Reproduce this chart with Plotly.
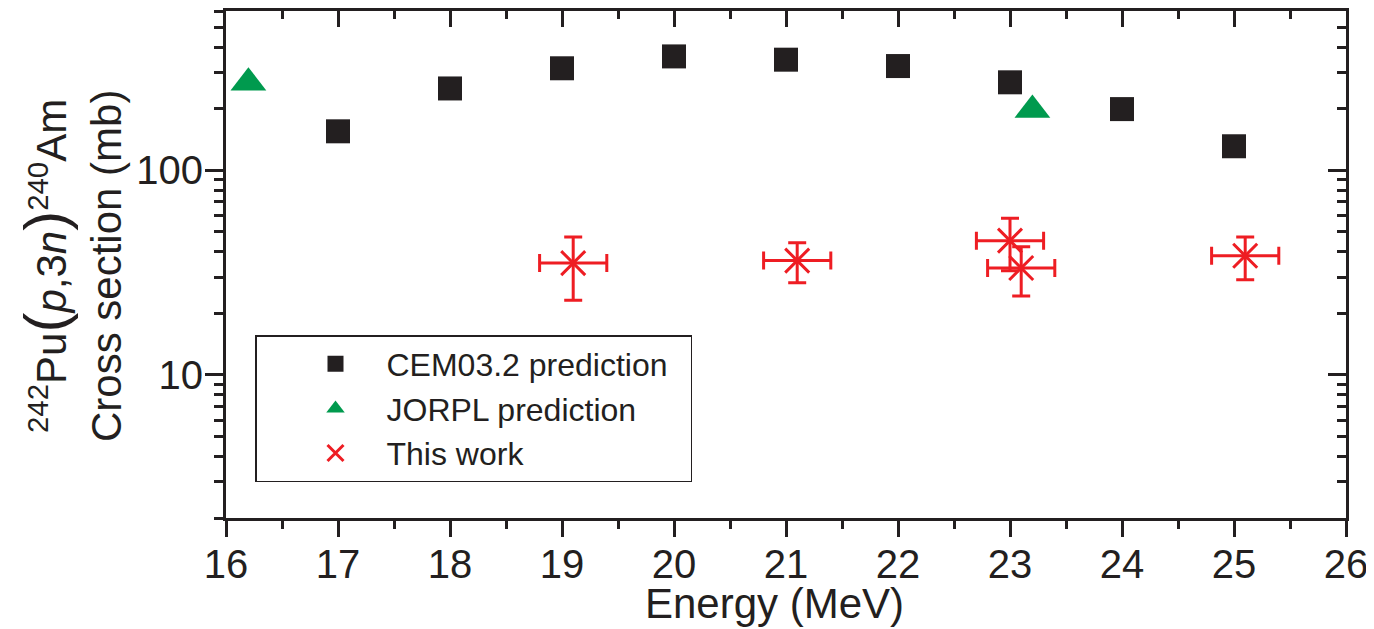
import math
import plotly.graph_objects as go

# ---- data ----
cem_energy = [17, 18, 19, 20, 21, 22, 23, 24, 25]
cem_xs = [155, 251, 315, 360, 347, 323, 269, 199, 131]

jorpl_energy = [16.2, 23.2]
jorpl_xs = [268, 197]

work_energy = [19.1, 21.1, 23.0, 23.1, 25.1]
work_xs = [35.2, 36.2, 45.3, 33.3, 38.2]
work_xs_err = [12, 8, 13, 9, 9]
work_energy_err = [0.3, 0.3, 0.3, 0.3, 0.3]

x_range = [16, 26]
y_range = [2, 600]

FONT = "Liberation Sans, Arial, sans-serif"
INK = "#231F20"
RED = "#EE1D23"
GREEN = "#009A4E"

fig = go.Figure()
fig.add_trace(go.Scatter(
    x=cem_energy, y=cem_xs, mode="markers", name="CEM03.2 prediction&nbsp;&nbsp;",
    marker=dict(symbol="square", size=24, color=INK, line=dict(width=0)),
))
fig.add_trace(go.Scatter(
    x=jorpl_energy, y=jorpl_xs, mode="markers", name="JORPL prediction",
    marker=dict(symbol="triangle-up", size=31, color=GREEN, line=dict(width=0)),
))
fig.add_trace(go.Scatter(
    x=work_energy, y=work_xs, mode="markers", name="This work",
    marker=dict(symbol="x-thin", size=24, color=RED, line=dict(width=3, color=RED)),
    error_y=dict(type="data", array=work_xs_err, visible=True, color=RED, thickness=3, width=9),
    error_x=dict(type="data", array=work_energy_err, visible=True, color=RED, thickness=3, width=9),
))
# invisible carrier so the mirrored top/right axes get drawn
fig.add_trace(go.Scatter(
    x=cem_energy, y=cem_xs, xaxis="x2", yaxis="y2", mode="markers",
    marker=dict(opacity=0), showlegend=False, hoverinfo="skip",
))

axis_common = dict(showline=True, linewidth=3, linecolor=INK, showgrid=False,
                   zeroline=False, tickcolor=INK, tickwidth=3, automargin=False)

# page body has an 8px margin, so the figure is 8px smaller than the window
fig.update_layout(
    width=1366, height=621,
    margin=dict(l=218, r=28, t=3, b=111),
    paper_bgcolor="white", plot_bgcolor="white",
    font=dict(family=FONT, color=INK, size=40),
    showlegend=True,
    legend=dict(
        x=(255 - 226) / 1120, y=(518 - 335) / 507, xanchor="left", yanchor="top",
        bordercolor=INK, borderwidth=1.5, bgcolor="white",
        font=dict(family=FONT, size=32, color=INK),
        itemwidth=92, indentation=28, tracegroupgap=0,
    ),
    xaxis=dict(
        **axis_common, range=x_range, dtick=1, tick0=16, ticks="outside", ticklen=16,
        minor=dict(dtick=0.5, ticks="outside", ticklen=8, tickwidth=3, tickcolor=INK),
        tickfont=dict(size=40), ticklabelstandoff=-7,
    ),
    xaxis2=dict(
        **axis_common, range=x_range, overlaying="x", side="top", anchor="y2",
        dtick=1, tick0=16, ticks="inside", ticklen=16, showticklabels=False,
        minor=dict(dtick=0.5, ticks="inside", ticklen=8, tickwidth=3, tickcolor=INK),
    ),
    yaxis=dict(
        **axis_common, type="log", range=[math.log10(y_range[0]), math.log10(y_range[1])],
        dtick=1, ticks="outside", ticklen=18, ticklabelstandoff=-6,
        minor=dict(dtick="D1", ticks="outside", ticklen=9, tickwidth=3, tickcolor=INK),
        tickfont=dict(size=40),
    ),
    yaxis2=dict(
        **axis_common, type="log", range=[math.log10(y_range[0]), math.log10(y_range[1])],
        overlaying="y", side="right", anchor="x2",
        dtick=1, ticks="inside", ticklen=18, showticklabels=False,
        minor=dict(dtick="D1", ticks="inside", ticklen=9, tickwidth=3, tickcolor=INK),
    ),
)

# x-axis title
fig.add_annotation(text="Energy (MeV)", xref="paper", yref="paper",
                   x=(774 - 226) / 1120, y=(518 - 603) / 507,
                   xanchor="center", yanchor="middle", showarrow=False,
                   font=dict(family=FONT, size=42, color=INK))

big = '<span style="font-size:60px">'
line1 = ('<sup>242</sup>Pu' + big + '(</span><i>p</i>,3<i>n</i>' + big + ')</span>'
         '<sup>240</sup>Am')
line2 = 'Cross section (mb)'
fig.add_annotation(text=line1, xref="paper", yref="paper",
                   x=(45 - 226) / 1120, y=(518 - 266) / 507, textangle=-90,
                   xanchor="center", yanchor="middle", showarrow=False,
                   font=dict(family=FONT, size=42, color=INK))
fig.add_annotation(text=line2, xref="paper", yref="paper",
                   x=(106 - 226) / 1120, y=(518 - 266) / 507, textangle=-90,
                   xanchor="center", yanchor="middle", showarrow=False,
                   font=dict(family=FONT, size=42, color=INK))

fig.write_html("out.html")
